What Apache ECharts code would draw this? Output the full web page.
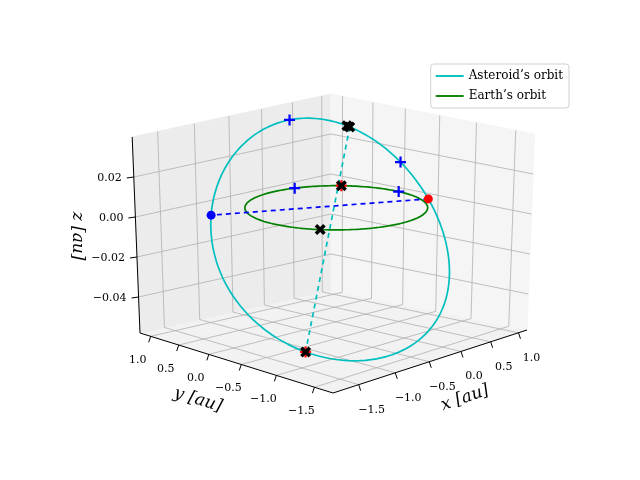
<!DOCTYPE html>
<html><head><meta charset="utf-8">
<script src="https://cdn.jsdelivr.net/npm/echarts@6/dist/echarts.min.js"></script>
<style>html,body{margin:0;padding:0;background:#fff}#c{width:640px;height:480px}</style>
</head><body><div id="c"></div>
<script>
// ---- data ----
const xRange = [-1.83, 1.16];
const yRange = [-1.73, 1.2];
const zRange = [-0.058, 0.04];
const xTicks = [-1.5, -1.0, -0.5, 0.0, 0.5, 1.0];
const yTicks = [-1.5, -1.0, -0.5, 0.0, 0.5, 1.0];
const zTicks = [-0.04, -0.02, 0.00, 0.02];
const xTickLabels = ['\u22121.5', '\u22121.0', '\u22120.5', '0.0', '0.5', '1.0'];
const yTickLabels = ['\u22121.5', '\u22121.0', '\u22120.5', '0.0', '0.5', '1.0'];
const zTickLabels = ['\u22120.04', '\u22120.02', '0.00', '0.02'];
// asteroid orbital elements: [semi-latus rectum au, eccentricity, inclination deg, node deg, arg. perihelion deg]
const asteroidElements = [1.22, 0.27, 2.0, -29, 63];
const earthRadius = [1.0];
const asteroidPlusNu = [-38, 42];        // true anomalies of '+' marks
const asteroidCrossNu = [0, 180];        // perihelion / aphelion
const asteroidCrossNu2 = [2];            // second perihelion mark
const earthPlusAngle = [73, -3];
const earthCrossAngle = [40, 215];
const earthRedAngle = [40];
const seriesNames = ["Asteroid\u2019s orbit", "Earth\u2019s orbit"];

// ---- projection (homography floor + vertical) ----
const P00 = [333, 393], P10 = [527, 330], P11 = [331, 290], P01 = [140, 333];
const H0 = 196;
function homog() {
  const [x0, y0] = P00, [x1, y1] = P10, [x2, y2] = P11, [x3, y3] = P01;
  const sx = x0 - x1 + x2 - x3, sy = y0 - y1 + y2 - y3;
  const dx1 = x1 - x2, dx2 = x3 - x2, dy1 = y1 - y2, dy2 = y3 - y2;
  const den = dx1 * dy2 - dx2 * dy1;
  const g = (sx * dy2 - dx2 * sy) / den, h = (dx1 * sy - sx * dy1) / den;
  return {a: x1 - x0 + g * x1, b: x3 - x0 + h * x3, c: x0, d: y1 - y0 + g * y1, e: y3 - y0 + h * y3, f: y0, g, h};
}
const HM = homog();
function proj(x, y, z) {
  const u = (x - xRange[0]) / (xRange[1] - xRange[0]);
  const v = (y - yRange[0]) / (yRange[1] - yRange[0]);
  const w = (z - zRange[0]) / (zRange[1] - zRange[0]);
  const dn = HM.g * u + HM.h * v + 1;
  let X = (HM.a * u + HM.b * v + HM.c) / dn;
  let Y = (HM.d * u + HM.e * v + HM.f) / dn;
  Y -= w * H0;
  X = 335 + (X - 335) * (1 + 0.04 * w);
  return [X, Y];
}
const D = Math.PI / 180;
function asteroidPos(nu) {
  const [p, e, inc, Om, om] = asteroidElements;
  const r = p / (1 + e * Math.cos(nu * D));
  const t = (om + nu) * D, O = Om * D, i = inc * D;
  return [r * (Math.cos(O) * Math.cos(t) - Math.sin(O) * Math.sin(t) * Math.cos(i)),
          r * (Math.sin(O) * Math.cos(t) + Math.cos(O) * Math.sin(t) * Math.cos(i)),
          r * Math.sin(t) * Math.sin(i)];
}
function earthPos(a) { return [earthRadius[0] * Math.cos(a * D), earthRadius[0] * Math.sin(a * D), 0]; }
const P = (q) => proj(q[0], q[1], q[2]);

const [x0, x1] = xRange, [y0, y1] = yRange, [z0, z1] = zRange;
const panes = [
  {pts: [[x0, y0, z0], [x1, y0, z0], [x1, y1, z0], [x0, y1, z0]], color: '#f2f2f2'},
  {pts: [[x0, y1, z0], [x1, y1, z0], [x1, y1, z1], [x0, y1, z1]], color: '#ececec'},
  {pts: [[x1, y0, z0], [x1, y1, z0], [x1, y1, z1], [x1, y0, z1]], color: '#f5f5f5'}
];
const grid = [];
xTicks.forEach(t => { grid.push([[t, y0, z0], [t, y1, z0], [t, y1, z1]]); });
yTicks.forEach(t => { grid.push([[x0, t, z0], [x1, t, z0], [x1, t, z1]]); });
zTicks.forEach(t => { grid.push([[x0, y1, t], [x1, y1, t], [x1, y0, t]]); });
const axesLines = [
  [[x0, y0, z0], [x1, y0, z0]],
  [[x0, y0, z0], [x0, y1, z0]],
  [[x0, y1, z0], [x0, y1, z1]]
];
const ticks = [];
xTicks.forEach(t => { const a = P([t, y0, z0]); ticks.push([a, [a[0] + 2, a[1] + 6]]); });
yTicks.forEach(t => { const a = P([x0, t, z0]); ticks.push([a, [a[0] - 2, a[1] + 6]]); });
zTicks.forEach(t => { const a = P([x0, y1, t]); ticks.push([a, [a[0] - 7, a[1] + 1]]); });
const texts = [];
xTicks.forEach((t, k) => { const a = P([t, y0, z0]); texts.push({x: a[0] + 13, y: a[1] + 25, s: xTickLabels[k], al: 'center'}); });
yTicks.forEach((t, k) => { const a = P([x0, t, z0]); texts.push({x: a[0] - 13, y: a[1] + 24, s: yTickLabels[k], al: 'center'}); });
zTicks.forEach((t, k) => { const a = P([x0, y1, t]); texts.push({x: a[0] - 12, y: a[1] + 1, s: zTickLabels[k], al: 'right'}); });

const asteroidLine = []; for (let nu = -180; nu <= 180; nu += 2) asteroidLine.push(P(asteroidPos(nu)));
const earthLine = []; for (let a = 0; a <= 360; a += 2) earthLine.push(P(earthPos(a)));
const apsides = asteroidCrossNu.map(n => P(asteroidPos(n)));
const nodes = [P(asteroidPos(-asteroidElements[4])), P(asteroidPos(180 - asteroidElements[4]))];

const plusSym = 'path://M4,0h2v4h4v2h-4v4h-2v-4h-4v-2h4z';
const crossSym = 'path://M3.5,0h3v3.5h3.5v3h-3.5v3.5h-3v-3.5h-3.5v-3h3.5z';

const lineSeries = (data, color, width, type, name, z) => ({
  type: 'line', name, data, showSymbol: false, symbol: 'none', silent: true, z: z || 5,
  lineStyle: {color, width, type: type || 'solid'}, itemStyle: {color}, animation: false
});

const chart = echarts.init(document.getElementById('c'));
const series = [];
series.push({
  type: 'custom', data: panes.map((p, i) => i), z: 1, silent: true,
  renderItem: (params, api) => {
    const pn = panes[params.dataIndex];
    return {type: 'polygon', shape: {points: pn.pts.map(q => api.coord(P(q)))}, style: {fill: pn.color, stroke: pn.color}};
  }
});
grid.forEach(g => series.push(lineSeries(g.map(P), '#b0b0b0', 0.8, 'solid', undefined, 2)));
axesLines.forEach(g => series.push(lineSeries(g.map(P), '#000', 1, 'solid', undefined, 3)));
ticks.forEach(g => series.push(lineSeries(g, '#000', 1, 'solid', undefined, 3)));
series.push({
  type: 'custom', data: texts.map((t, i) => i), z: 4, silent: true,
  renderItem: (params, api) => {
    const t = texts[params.dataIndex]; const c = api.coord([t.x, t.y]);
    return {type: 'text', x: c[0], y: c[1],
      style: {text: t.s, fill: '#000', font: '11px "DejaVu Serif"', align: t.al, verticalAlign: 'middle'}};
  }
});
const titles = [
  {x: 465, y: 398, s: 'x [au]', r: 19 * D},
  {x: 198, y: 400, s: 'y [au]', r: -17 * D},
  {x: 77, y: 236, s: 'z [au]', r: -90 * D}
];
series.push({
  type: 'custom', data: titles.map((t, i) => i), z: 4, silent: true,
  renderItem: (params, api) => {
    const t = titles[params.dataIndex]; const c = api.coord([t.x, t.y]);
    return {type: 'text', x: c[0], y: c[1], rotation: t.r,
      style: {text: t.s, fill: '#000', font: 'italic 17px "DejaVu Serif"', align: 'center', verticalAlign: 'middle'}};
  }
});
series.push(lineSeries(asteroidLine, '#00bfbf', 1.7, 'solid', seriesNames[0], 6));
series.push(lineSeries(earthLine, '#008000', 1.7, 'solid', seriesNames[1], 6));
series.push(lineSeries(apsides, '#00bfbf', 1.7, [5, 4], undefined, 7));
series.push(lineSeries(nodes, '#0000ff', 1.7, [5, 4], undefined, 7));
const sc = (data, symbol, size, color, rot, z) => ({type: 'scatter', data, symbol, symbolSize: size, symbolRotate: rot || 0,
  itemStyle: {color, opacity: 1}, z: z || 8, silent: true, animation: false});
series.push(sc(asteroidPlusNu.map(n => P(asteroidPos(n))).concat(earthPlusAngle.map(a => P(earthPos(a)))), plusSym, 11, '#0000ff'));
series.push(sc([nodes[1]], 'circle', 9, '#0000ff'));
series.push(sc([nodes[0]], 'circle', 9, '#ff0000'));
series.push(sc(earthRedAngle.map(a => P(earthPos(a))).concat([P(asteroidPos(180))]), plusSym, 11, '#ff0000', 0, 9));
series.push(sc(asteroidCrossNu.concat(asteroidCrossNu2).map(n => P(asteroidPos(n))).concat(earthCrossAngle.map(a => P(earthPos(a)))), crossSym, 12, '#000', 45, 10));

chart.setOption({
  animation: false,
  grid: {left: 0, right: 0, top: 0, bottom: 0},
  xAxis: {type: 'value', min: 0, max: 640, show: false},
  yAxis: {type: 'value', min: 0, max: 480, inverse: true, show: false},
  legend: {
    data: seriesNames.map(n => ({name: n, icon: 'path://M0,0h30v2h-30z'})), orient: 'vertical', right: 71, top: 64,
    itemWidth: 28, itemHeight: 2, itemGap: 8, padding: [6, 6, 6, 5],
    borderColor: '#d0d0d0', borderWidth: 1, borderRadius: 3, backgroundColor: '#fff',
    textStyle: {fontFamily: 'DejaVu Serif', fontSize: 12, color: '#000'}
  },
  series
});
</script></body></html>
